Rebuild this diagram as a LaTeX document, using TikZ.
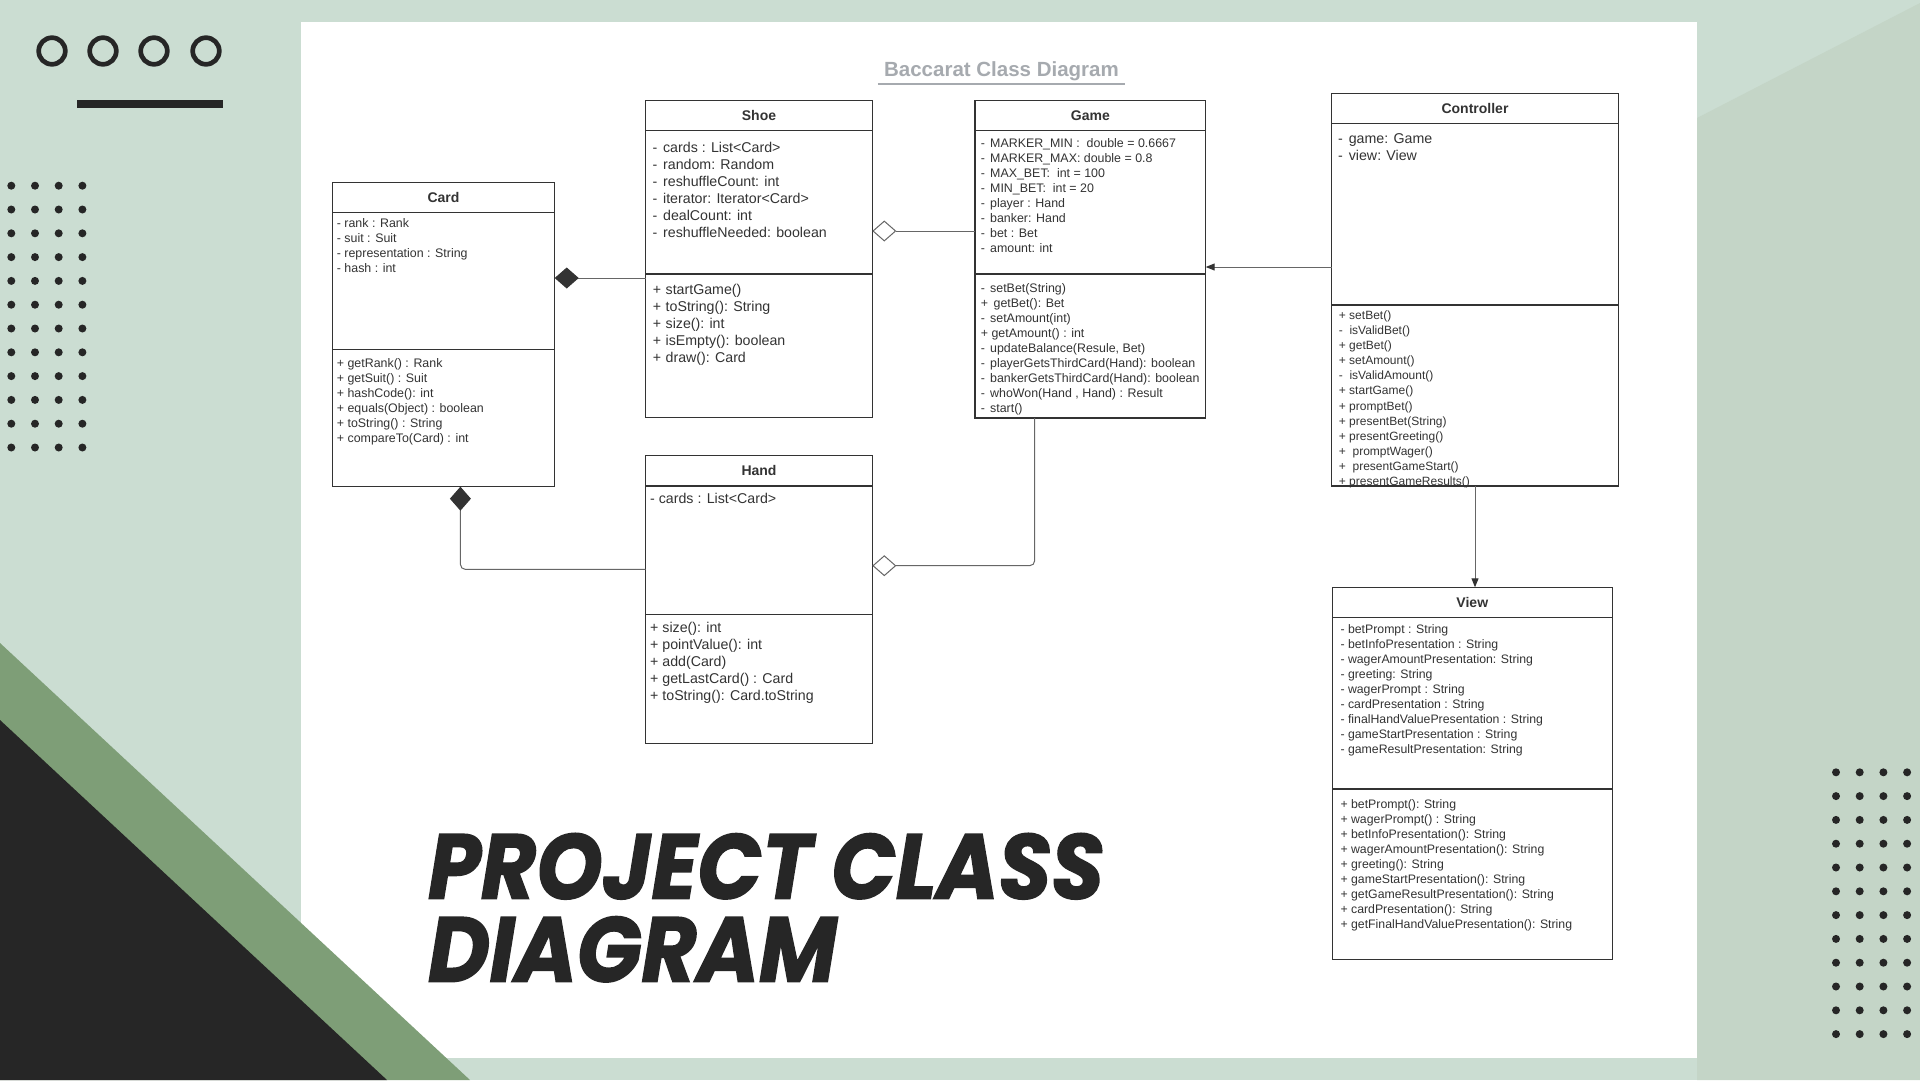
\documentclass[tikz,border=0pt]{standalone}
\usepackage{fontspec}
\usepackage{graphicx}
\setmainfont{Liberation Sans}
\newfontfamily\posterfont{Poppins}[BoldItalicFeatures={FakeBold=1.6}]
\usetikzlibrary{positioning,arrows.meta,calc}

\definecolor{sage}{HTML}{CBDDD2}
\definecolor{sagedark}{HTML}{C4D5C7}
\definecolor{leaf}{HTML}{7E9E77}
\definecolor{ink}{HTML}{262626}
\definecolor{umlline}{HTML}{333333}
\definecolor{wire}{HTML}{666666}
\definecolor{caption}{HTML}{A6AAAF}

\newcommand{\fsz}[2]{\fontsize{#1}{#2}\selectfont}
\newcommand{\vsym}[2][0.75em]{\makebox[#1][l]{#2}}

\begin{document}
\begin{tikzpicture}[x=1pt,y=-1pt,
    umlbox/.style={draw=umlline,line width=1.4pt,fill=white,inner sep=0pt,outer sep=0pt,minimum width=#1},
    umlhead/.style={umlbox=#1,minimum height=30pt,text=umlline,font=\bfseries\fsz{14}{16}},
    umltext/.style={align=left,inner sep=0pt,text=umlline},
    umlwire/.style={draw=wire,line width=1pt},
    comp/.style={-{Diamond[length=24pt,width=21pt,color=umlline,fill=umlline]}},
    agg/.style={-{Diamond[open,length=24pt,width=21pt,color=wire]}},
    nav/.style={-{Triangle[length=9pt,width=7pt,color=umlline]}}]

  % background
  \fill[sage] (0,0) rectangle (1920,1080);
  \fill[sagedark] (1697,118) -- (1920,3) -- (1920,1080) -- (1697,1080) -- cycle;
  \fill[white] (301,22) rectangle (1697,1058);
  \fill[leaf] (0,643) -- (470,1080) -- (0,1080) -- cycle;
  \fill[ink] (0,720) -- (387,1080) -- (0,1080) -- cycle;
  \foreach \x in {52,103,154,206}
    \draw[ink,line width=4.7pt] (\x,51) circle[radius=13.3pt];
  \fill[ink] (77,100) rectangle (223,108);
  \foreach \i in {0,...,3}
    \foreach \j in {0,...,11} {
      \fill[ink] (11.3+23.7*\i,185.7+23.8*\j) circle[radius=4pt];
      \fill[ink] (1836+23.7*\i,772.3+23.8*\j) circle[radius=4pt];
    }

  % titles
  \node[anchor=base,text=caption,font=\bfseries\fsz{20.5}{24},inner xsep=6pt,inner ysep=3.7pt] (title) at (1001.5,76) {Baccarat Class Diagram};
  \draw[caption,line width=2pt] (title.south west) -- (title.south east);
  \node[anchor=north west,inner sep=0pt,align=left,text=ink,font=\posterfont\bfseries\itshape\fsz{92}{83}] (poster) at (428,833)
    {\scalebox{0.92}[1]{PROJECT CLASS}\\\scalebox{0.92}[1]{DIAGRAM}};

  % Card
  \node[umlhead=222.4pt,anchor=north west] (card) at (332.3,182.3) {Card};
  \node[umlbox=222.4pt,minimum height=137pt,below=0pt of card] (cardattr) {};
  \node[umlbox=222.4pt,minimum height=137.4pt,below=0pt of cardattr] (cardops) {};
  \node[umltext,font=\fsz{12.4}{15},below right=4.4pt and 4.4pt of cardattr.north west] (cardattrtext)
    {\strut- rank : Rank\\- suit : Suit\\- representation : String\\- hash : int};
  \node[umltext,font=\fsz{12.4}{15},below right=7pt and 4.4pt of cardops.north west] (cardopstext)
    {\strut+ getRank() : Rank\\+ getSuit() : Suit\\+ hashCode(): int\\+ equals(Object) : boolean\\+ toString() : String\\+ compareTo(Card) : int};

  % Shoe
  \node[umlhead=226.6pt,anchor=north west] (shoe) at (645.7,100.7) {Shoe};
  \node[umlbox=226.6pt,minimum height=143.3pt,below=0pt of shoe] (shoeattr) {};
  \node[umlbox=226.6pt,minimum height=143.7pt,below=0pt of shoeattr] (shoeops) {};
  \node[umltext,font=\fsz{14.2}{17},below right=9.8pt and 6.6pt of shoeattr.north west] (shoeattrtext)
    {\strut\vsym{-}cards : List<Card>\\\vsym{-}random: Random\\\vsym{-}reshuffleCount: int\\\vsym{-}iterator: Iterator<Card>\\\vsym{-}dealCount: int\\\vsym{-}reshuffleNeeded: boolean};
  \node[umltext,font=\fsz{14.2}{17},below right=8.5pt and 7pt of shoeops.north west] (shoeopstext)
    {\strut\vsym[0.9em]{+}startGame()\\\vsym[0.9em]{+}toString(): String\\\vsym[0.9em]{+}size(): int\\\vsym[0.9em]{+}isEmpty(): boolean\\\vsym[0.9em]{+}draw(): Card};

  % Game
  \node[umlhead=230.7pt,anchor=north west] (game) at (975,100.7) {Game};
  \node[umlbox=230.7pt,minimum height=143.3pt,below=0pt of game] (gameattr) {};
  \node[umlbox=230.7pt,minimum height=144pt,below=0pt of gameattr] (gameops) {};
  \node[umltext,font=\fsz{12.4}{15},below right=6pt and 5.7pt of gameattr.north west] (gameattrtext)
    {\strut\vsym{-}MARKER\_MIN :~~double = 0.6667\\\vsym{-}MARKER\_MAX: double = 0.8\\\vsym{-}MAX\_BET:~~int = 100\\\vsym{-}MIN\_BET:~~int = 20\\\vsym{-}player : Hand\\\vsym{-}banker: Hand\\\vsym{-}bet : Bet\\\vsym{-}amount: int};
  \node[umltext,font=\fsz{12.4}{15},below right=7.7pt and 5.7pt of gameops.north west] (gameopstext)
    {\strut\vsym{-}setBet(String)\\\vsym{+}\ getBet(): Bet\\\vsym{-}setAmount(int)\\+ getAmount() : int\\\vsym{-}updateBalance(Resule, Bet)\\\vsym{-}playerGetsThirdCard(Hand): boolean\\\vsym{-}bankerGetsThirdCard(Hand): boolean\\\vsym{-}whoWon(Hand , Hand) : Result\\\vsym{-}start()};

  % Controller
  \node[umlhead=286.6pt,anchor=north west] (ctrl) at (1331.7,93.3) {Controller};
  \node[umlbox=286.6pt,minimum height=181.7pt,below=0pt of ctrl] (ctrlattr) {};
  \node[umlbox=286.6pt,minimum height=181pt,below=0pt of ctrlattr] (ctrlops) {};
  \node[umltext,font=\fsz{14.2}{16.7},below right=8.4pt and 6.3pt of ctrlattr.north west] (ctrlattrtext)
    {\strut\vsym{-}game: Game\\\vsym{-}view: View};
  \node[umltext,font=\fsz{12}{15.1},below right=3.7pt and 7pt of ctrlops.north west] (ctrlopstext)
    {\strut+ setBet()\\-\ \ isValidBet()\\+ getBet()\\+ setAmount()\\-\ \ isValidAmount()\\+ startGame()\\+ promptBet()\\+ presentBet(String)\\+ presentGreeting()\\+\ \ promptWager()\\+\ \ presentGameStart()\\+ presentGameResults()};

  % View
  \node[umlhead=280pt,anchor=north west] (view) at (1332.3,587.3) {View};
  \node[umlbox=280pt,minimum height=171.7pt,below=0pt of view] (viewattr) {};
  \node[umlbox=280pt,minimum height=170.3pt,below=0pt of viewattr] (viewops) {};
  \node[umltext,font=\fsz{12.3}{15},below right=5.9pt and 8pt of viewattr.north west] (viewattrtext)
    {\strut- betPrompt : String\\- betInfoPresentation : String\\- wagerAmountPresentation: String\\- greeting: String\\- wagerPrompt : String\\- cardPresentation : String\\- finalHandValuePresentation : String\\- gameStartPresentation : String\\- gameResultPresentation: String};
  \node[umltext,font=\fsz{12.3}{15},below right=8.9pt and 8pt of viewops.north west] (viewopstext)
    {\strut+ betPrompt(): String\\+ wagerPrompt() : String\\+ betInfoPresentation(): String\\+ wagerAmountPresentation(): String\\+ greeting(): String\\+ gameStartPresentation(): String\\+ getGameResultPresentation(): String\\+ cardPresentation(): String\\+ getFinalHandValuePresentation(): String};

  % Hand
  \node[umlhead=226.6pt,anchor=north west,minimum height=30.3pt] (hand) at (645.7,455.7) {Hand};
  \node[umlbox=226.6pt,minimum height=128.3pt,below=0pt of hand] (handattr) {};
  \node[umlbox=226.6pt,minimum height=129pt,below=0pt of handattr] (handops) {};
  \node[umltext,font=\fsz{14.2}{17},below right=4.9pt and 4.3pt of handattr.north west] (handattrtext)
    {\strut- cards : List<Card>};
  \node[umltext,font=\fsz{14.2}{17},below right=6.2pt and 4.3pt of handops.north west] (handopstext)
    {\strut+ size(): int\\+ pointValue(): int\\+ add(Card)\\+ getLastCard() : Card\\+ toString(): Card.toString};

  % associations
  \coordinate (shoeleft) at ($(shoeops.north west)+(0,4)$);
  \coordinate (gameleft) at ($(gameattr.north west)+(0,100.3)$);
  \coordinate (ctrlleft) at ($(ctrlattr.north west)+(0,143.7)$);
  \coordinate (handleft) at ($(handattr.north west)+(0,83.4)$);
  \coordinate (cardfoot) at ($(cardops.south west)+(128.1,0)$);
  \coordinate (gamefoot) at ($(gameops.south west)+(59.7,0)$);
  \coordinate (handright) at ($(handattr.north east)+(0,79.7)$);
  \draw[umlwire,comp] (shoeleft) -- (shoeleft -| cardattr.east);
  \draw[umlwire,agg] (gameleft) -- (gameleft -| shoeattr.east);
  \draw[umlwire,nav] (ctrlleft) -- (ctrlleft -| gameattr.east);
  \draw[umlwire,nav] (ctrlops.south) -- (ctrlops.south |- view.north);
  \draw[umlwire,comp,rounded corners=5pt] (handleft) -| (cardfoot);
  \draw[umlwire,agg,rounded corners=5pt] (gamefoot) |- (handright);
\end{tikzpicture}
\end{document}
